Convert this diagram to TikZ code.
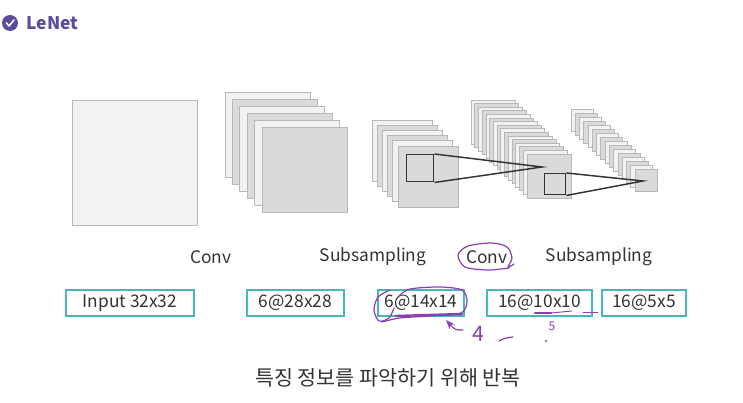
\documentclass[tikz,border=0pt]{standalone}
\usepackage{fontspec}
\setmainfont{Noto Sans CJK KR}
\usepackage{tikz}
\usetikzlibrary{arrows.meta, positioning, calc}
\definecolor{lenetpurple}{HTML}{5B4A9E}
\definecolor{boxteal}{HTML}{45B8BC}
\definecolor{inkpurple}{HTML}{8A3FB0}
\definecolor{map0}{HTML}{F2F2F2}
\definecolor{map1}{HTML}{DADADA}
\definecolor{mapedge}{HTML}{B8B8B8}
\definecolor{labelgray}{HTML}{333333}

\tikzset{
  fmap/.style={draw=mapedge, line width=0.6pt},
  sizebox/.style={draw=boxteal, line width=1.6pt, minimum height=20pt,
    inner sep=0pt, text=labelgray, font=\fontsize{13}{15}\selectfont},
  steplabel/.style={text=labelgray, font=\fontsize{13}{15}\selectfont},
  window/.style={draw=black!80, line width=1.1pt, fill=none, inner sep=0pt, anchor=north west},
  ink/.style={draw=inkpurple, line width=0.9pt, line cap=round, line join=round}
}

\begin{document}
\begin{tikzpicture}[x=0.75pt,y=-0.75pt,>=Stealth]
  \useasboundingbox[fill=white] (0,0) rectangle (743,403);

  % title
  \node[circle, fill=lenetpurple, minimum size=12pt, inner sep=0pt] (chk) at (10,23) {};
  \draw[white, line width=1.2pt, line cap=round, line join=round]
    ([shift={(-3.5,0)}]chk.center) -- ++(2.5,3) -- ++(5,-6);
  \node[anchor=west, text=lenetpurple, font=\fontsize{13}{15}\selectfont\bfseries]
    (title) at (22,23) {LeNet};

  % input
  \filldraw[fmap, fill=map0] (72,100) rectangle ++(125,125);

  % C1 6@28x28
  \foreach \i [evaluate=\i as \c using {int(mod(\i,2))}] in {0,...,5}
    \filldraw[fmap, fill=map\c] (225+\i*7.4,92+\i*7) rectangle ++(85,85);

  % S2 6@14x14
  \foreach \i [evaluate=\i as \c using {int(mod(\i,2))}] in {0,...,5}
    \filldraw[fmap, fill=map\c] (372+\i*5.2,120+\i*5.2) rectangle ++(60,61);

  % C3 16@10x10
  \foreach \i [evaluate=\i as \c using {int(mod(\i,2))}] in {0,...,15}
    \filldraw[fmap, fill=map\c] (471+\i*3.73,100+\i*3.6) rectangle ++(44,44);

  % S4 16@5x5
  \foreach \i [evaluate=\i as \c using {int(mod(\i,2))}] in {0,...,15}
    \filldraw[fmap, fill=map\c] (571+\i*4.27,109+\i*4) rectangle ++(22,22);

  % receptive windows
  \node[window, minimum size=20.25pt] (win1) at (406,154) {};
  \coordinate (tip1) at (542,167);
  \draw[black!80, line width=1.1pt] (win1.north east) -- (tip1) -- (win1.south east);

  \node[window, minimum size=15.75pt] (win2) at (544,173) {};
  \coordinate (tip2) at (643,181);
  \draw[black!80, line width=1.1pt] (win2.north east) -- (tip2) -- (win2.south east);

  % operations
  \node[steplabel] (conv1) at (211,257) {Conv};
  \node[steplabel] (sub1) at (373,257) {Subsampling};
  \node[steplabel] (conv2) at (487,257) {Conv};
  \node[steplabel] (sub2) at (599,257) {Subsampling};

  % sizes
  \node[sizebox, minimum width=96pt] (in) at (130,303) {Input 32x32};
  \node[sizebox, minimum width=72.75pt] (c1) at (295.5,303) {6@28x28};
  \node[sizebox, minimum width=64.5pt] (s2) at (421,303) {6@14x14};
  \node[sizebox, minimum width=78.75pt] (c3) at (539.5,303) {16@10x10};
  \node[sizebox, minimum width=63pt] (s4) at (644,303) {16@5x5};

  % handwritten notes
  \draw[ink] plot[smooth] coordinates {(509,268) (488,270) (465,267) (458,255)
    (468,246) (492,243) (507,247) (512,258) (508,267) (514,264)};
  \draw[ink] plot[smooth] coordinates {(390,290) (378,297) (374,310) (379,321)
    (389,318) (394,308)};
  \draw[ink] plot[smooth] coordinates {(399,296) (410,289) (440,287) (462,290)
    (467,301) (461,313) (430,316) (400,318) (382,322)};
  \draw[ink, line width=1.8pt] (396,316) -- (462,314);
  \draw[ink, ->] (463,330) .. controls (455,330) .. (446,320);
  \node[text=inkpurple, font=\fontsize{16}{16}\selectfont\itshape] (four) at (478,334) {4};
  \draw[ink] (499,341) .. controls (505,338) .. (513,337);
  \node[text=inkpurple, font=\fontsize{9}{9}\selectfont] (five) at (552,326) {5};
  \fill[inkpurple] (546,341) circle (0.9pt);
  \draw[ink, line width=1.8pt] (535,313) -- (551,313);
  \draw[ink, line width=0.7pt] (551,313) -- (572,311);
  \draw[ink, line width=0.7pt] (583,312) -- (598,312);

  % caption
  \node[text=labelgray, font=\fontsize{15.5}{17}\selectfont] (caption) at (388,378)
    {특징 정보를 파악하기 위해 반복};
\end{tikzpicture}
\end{document}
